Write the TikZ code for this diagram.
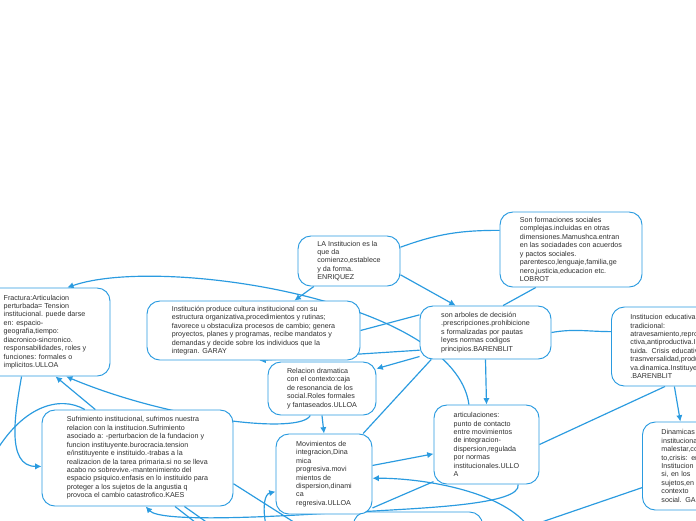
\documentclass[tikz,border=0pt]{standalone}
\usepackage{fontspec}
\setmainfont{Liberation Sans}
\usetikzlibrary{arrows.meta, backgrounds}
\definecolor{mapblue}{HTML}{2A9BE0}
\definecolor{maptext}{HTML}{303030}

\begin{document}
\begin{tikzpicture}[x=0.03cm, y=-0.03cm,
  topic/.style={rounded corners=11pt, draw=mapblue, fill=white, line width=0.8pt,
                align=left, text=maptext, inner sep=2pt,
                font=\fontsize{6.1}{7.2}\selectfont},
  link/.style={draw=mapblue, line width=1pt},
  arrowlink/.style={link, -{Latex[length=1.9mm,width=1.9mm]}},
]
\useasboundingbox (0,0) rectangle (696,520);
\clip (0,0) rectangle (696,520);
% main topics
\node[topic, minimum width=3.06cm, minimum height=1.5cm] (enriquez) at (349,261)
  {LA Institucion es la\\que da\\comienzo,establece\\y da forma.\\ENRIQUEZ};
\node[topic, minimum width=4.26cm, minimum height=2.25cm] (lobrot) at (571,249.5)
  {Son formaciones sociales\\complejas.incluidas en otras\\dimensiones.Mamushca.entran\\en las sociadades con acuerdos\\y pactos sociales.\\parentesco,lenguaje,familia,ge\\nero,justicia,educacion etc.\\LOBROT};
\node[topic, minimum width=3.93cm, minimum height=1.59cm] (barenblit) at (485.5,332.5)
  {son arboles de decisión\\.prescripciones.prohibicione\\s formalizadas por pautas\\leyes normas codigos\\principios.BARENBLIT};
\node[topic, minimum width=6.39cm, minimum height=1.77cm] (garay) at (253.5,330.5)
  {Institución produce cultura institucional con su\\estructura organizativa,procedimientos y rutinas;\\favorece u obstaculiza procesos de cambio; genera\\proyectos, planes y programas, recibe mandatos y\\demandas y decide sobre los individuos que la\\integran. GARAY};
\node[topic, minimum width=3.9cm, minimum height=2.64cm] (frac) at (45,332)
  {Fractura:Articulacion\\perturbada= Tension\\institucional. puede darse\\en: espacio-\\geografia,tiempo:\\diacronico-sincronico.\\responsabilidades, roles y\\funciones: formales o\\implicitos.ULLOA};
\node[topic, anchor=west, text width=3.9cm, inner xsep=0.57cm, minimum height=2.37cm] (insted) at (611,346.5)
  {Institucion educativa\\tradicional:\\atravesamiento,reprodu\\ctiva,antiproductiva.Insti\\tuida. Crisis educativa\\trasnversalidad,producti\\va.dinamica.Instituyente\\.BARENBLIT};
\node[topic, minimum width=3.24cm, minimum height=1.59cm] (relacion) at (322,388.5)
  {Relacion dramatica\\con el contexto:caja\\de resonancia de los\\social.Roles formales\\y fantaseados.ULLOA};
\node[topic, minimum width=5.73cm, minimum height=2.88cm] (sufrimiento) at (137.5,458)
  {Sufrimiento institucional, sufrimos nuestra\\relacion con la institucion.Sufrimiento\\asociado a: -perturbacion de la fundacion y\\funcion instituyente.burocracia.tension\\e/instituyente e instituido.-trabas a la\\realizacion de la tarea primaria.si no se lleva\\acabo no sobrevive.-mantenimiento del\\espacio psiquico.enfasis en lo instituido para\\proteger a los sujetos de la angustia q\\provoca el cambio catastrofico.KAES};
\node[topic, minimum width=3.87cm, minimum height=1.98cm] (bottom) at (418,545) {};
\node[topic, minimum width=2.88cm, minimum height=2.4cm] (movimientos) at (324,474)
  {Movimientos de\\integracion,Dina\\mica\\progresiva.movi\\mientos de\\dispersion,dinami\\ca\\regresiva.ULLOA};
\node[topic, minimum width=3.15cm, minimum height=2.37cm] (articulaciones) at (486.5,444.5)
  {articulaciones:\\punto de contacto\\entre movimientos\\de integracion-\\dispersion,regulada\\por normas\\institucionales.ULLO\\A};
\node[topic, anchor=west, text width=2.4cm, inner xsep=0.57cm, minimum height=2.64cm] (dinamicas) at (642,466)
  {Dinamicas\\institucionales:\\malestar,conflic\\to,crisis: en la\\Institucion en\\si,  en los\\sujetos,en el\\contexto\\social. GARAY};
% loose ends leaving the frame
\coordinate (leftin) at (-10,462);
\coordinate (sb1) at (200,526);
\coordinate (sb2) at (212,526);
\coordinate (sb3) at (300,526);
\coordinate (mb) at (266,526);
\coordinate (bin) at (528,526);
\coordinate (bout) at (530,526);
% connectors
\begin{scope}[on background layer]
\fill[white] (0,0) rectangle (696,520);
\draw[link] (enriquez.15) to[out=20,in=180] (lobrot.165);
\draw[arrowlink] (enriquez.-15) -- ([xshift=-25.5pt]barenblit.north);
\draw[link] ([xshift=-30pt]lobrot.south) -- ([xshift=15pt]barenblit.north);
\draw[arrowlink] ([xshift=-30pt]enriquez.south) -- ([xshift=35pt]garay.north);
\draw[link] (barenblit.165) -- (garay.east);
\draw[arrowlink] (barenblit.195) -- ([xshift=5pt]garay.south);
\draw[arrowlink] (barenblit.200) -- (relacion.20);
\draw[arrowlink] (barenblit.south) -- (articulaciones.north);
\draw[link] (barenblit.east) to[out=10,in=180] (insted.170);
\draw[link] ([xshift=10pt]barenblit.south west) -- ([xshift=-8pt]movimientos.north east);
\draw[arrowlink] ([xshift=-15pt]articulaciones.north) .. controls (455,300) and (160,255) .. ([xshift=19pt]frac.north);
\draw[arrowlink] (relacion.south) -- (movimientos.north);
\draw[arrowlink] ([xshift=-10pt]relacion.south) .. controls (300,435) and (170,420) .. ([xshift=18pt]frac.south);
\draw[arrowlink] ([xshift=-36pt]sufrimiento.north) -- ([xshift=9pt]frac.south);
\draw[arrowlink] ([xshift=-20pt]frac.south) to[out=-100,in=180] (sufrimiento.185);
\draw[link] (leftin) .. controls (20,405) and (60,395) .. ([xshift=-45pt]sufrimiento.north);
\draw[arrowlink] (movimientos.10) -- (articulaciones.190);
\draw[link] (articulaciones.215) -- (movimientos.-35);
\draw[arrowlink] (bin) .. controls (500,490) and (420,478) .. (movimientos.-5);
\draw[link] ([xshift=27pt]articulaciones.south) .. controls (522,505) and (420,508) .. ([xshift=-45pt]bottom.north);
\draw[link] ([xshift=-26pt]insted.south) -- (articulaciones.east);
\draw[arrowlink] ([xshift=-18pt]insted.south) -- ([xshift=-18pt]dinamicas.north);
\draw[link] (dinamicas.200) -- (bout);
\draw[link] ([xshift=32pt]sufrimiento.south) -- (sb1);
\draw[link] ([xshift=40pt]sufrimiento.south) -- (sb2);
\draw[link] (sufrimiento.-15) -- (sb3);
\draw[arrowlink] (mb) .. controls (262,505) and (265,494) .. (movimientos.200);
\draw[arrowlink] (bottom.north west) .. controls (260,518) and (160,522) .. ([xshift=7pt]sufrimiento.south);
\end{scope}
\end{tikzpicture}
\end{document}
